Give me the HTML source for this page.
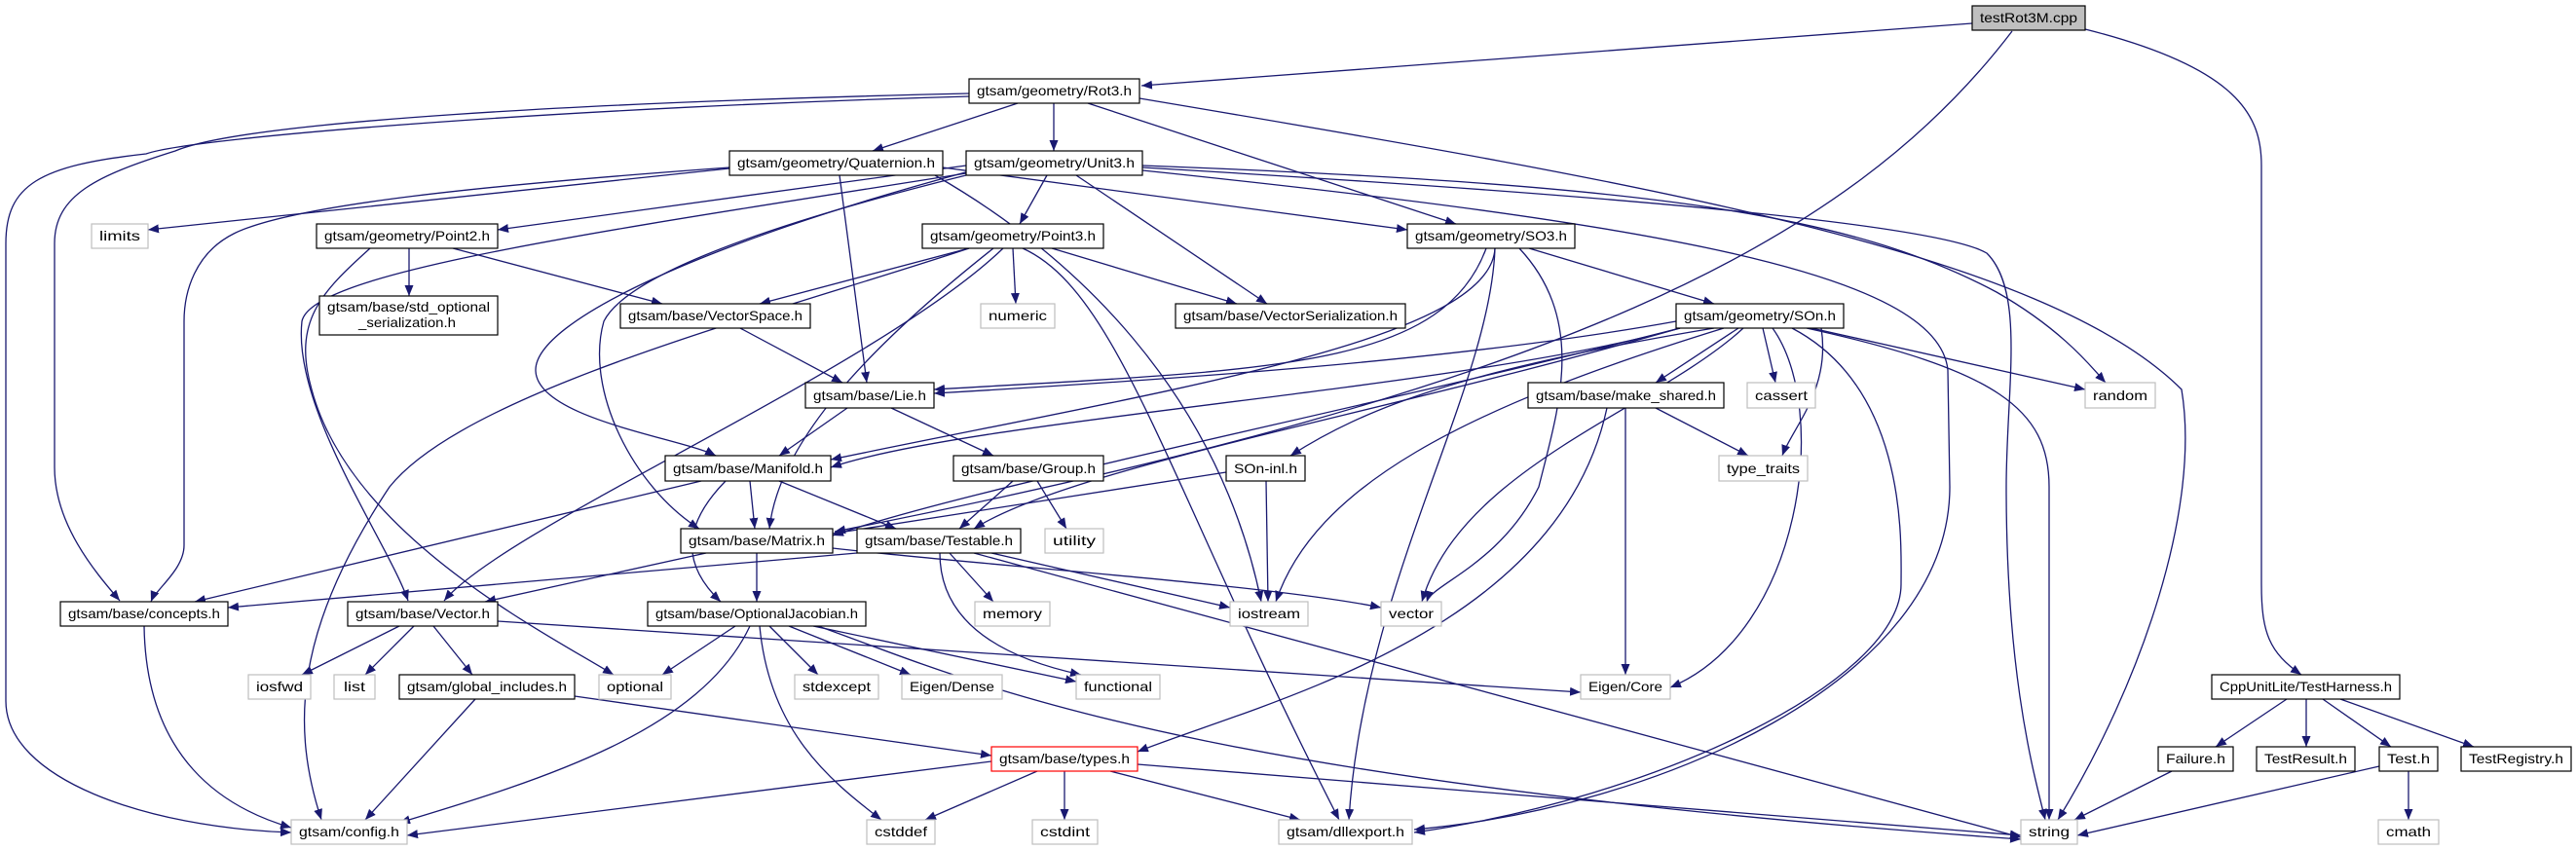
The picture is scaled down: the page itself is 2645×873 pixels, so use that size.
<!DOCTYPE html>
<html><head><meta charset="utf-8"><style>
html,body{margin:0;padding:0;background:#fff;}
svg{display:block;}
text{font-family:"Liberation Sans",sans-serif;font-size:14px;fill:#000;}
.e{fill:none;stroke:#191970;stroke-width:1.3;marker-end:url(#a);}
.b{fill:#fff;stroke:#000;stroke-width:1.2;}
.g{fill:#fff;stroke:#bfbfbf;stroke-width:1.2;}
</style></head><body>
<svg width="2645" height="873" viewBox="0 0 2645 873" xmlns="http://www.w3.org/2000/svg">
<defs><marker id="a" markerUnits="userSpaceOnUse" markerWidth="12" markerHeight="10" refX="11" refY="4.5" orient="auto"><path d="M0,0 L11,4.5 L0,9 z" fill="#191970"/></marker></defs>
<g>
<path class="e" d="M2025,24 L1172,88"/>
<path class="e" d="M2066,32 C1900,250 1600,400 857,546"/>
<path class="e" d="M2141,30 C2300,70 2322,120 2322,170 L2322,600 C2322,650 2330,670 2363,693"/>
<path class="e" d="M1045,106 L896,155"/>
<path class="e" d="M1082,106 L1082,155"/>
<path class="e" d="M1117,106 L1495,230"/>
<path class="e" d="M995,96 C600,105 250,125 180,155 C100,180 56,200 56,250 L56,480 C56,540 100,590 123,617"/>
<path class="e" d="M995,99 C600,110 200,140 150,158 C40,170 6,190 6,250 L6,720 C6,800 150,850 299,855"/>
<path class="e" d="M1170,101 C1700,190 2100,260 2240,400 C2260,520 2200,700 2113,842"/>
<path class="e" d="M749,173 L152,236"/>
<path class="e" d="M862,180 L890,393"/>
<path class="e" d="M749,172 C500,190 300,210 240,240 C200,260 189,300 189,330 L189,560 C189,585 160,605 155,618"/>
<path class="e" d="M960,180 C1100,260 1250,400 1295,618"/>
<path class="e" d="M968,172 L1445,236"/>
<path class="e" d="M992,170 L511,236"/>
<path class="e" d="M1075,180 L1047,230"/>
<path class="e" d="M1105,180 L1301,312"/>
<path class="e" d="M995,176 C720,250 550,330 550,380 C550,430 700,450 735,468"/>
<path class="e" d="M992,180 C750,240 640,290 620,330 C600,400 650,500 718,543"/>
<path class="e" d="M992,178 C600,240 320,280 310,330 C300,420 400,560 419,617"/>
<path class="e" d="M1173,170 C1700,190 1900,220 2050,300 C2120,340 2150,380 2162,393"/>
<path class="e" d="M1173,172 C1650,200 1990,230 2040,260 C2080,300 2060,400 2060,500 C2060,700 2090,800 2100,842"/>
<path class="e" d="M1173,175 C1700,230 1990,280 2000,380 L2002,500 C2002,700 1700,830 1452,852"/>
<path class="e" d="M420,255 L420,304"/>
<path class="e" d="M465,255 L680,312"/>
<path class="e" d="M380,255 C330,300 300,330 320,400 C360,550 560,650 630,693"/>
<path class="e" d="M995,255 L780,312"/>
<path class="e" d="M1080,255 L1270,312"/>
<path class="e" d="M1040,255 L1043,312"/>
<path class="e" d="M1030,255 C900,380 520,540 456,617"/>
<path class="e" d="M1020,255 C900,350 800,450 790,543"/>
<path class="e" d="M995,255 C800,320 480,400 400,500 C300,650 300,750 330,842"/>
<path class="e" d="M1050,255 C1150,300 1200,500 1375,842"/>
<path class="e" d="M760,337 L865,393"/>
<path class="e" d="M1570,255 L1760,312"/>
<path class="e" d="M1526,255 C1480,380 1300,380 959,400"/>
<path class="e" d="M1535,255 C1530,350 1200,400 853,472"/>
<path class="e" d="M1535,255 C1530,400 1400,600 1385,842"/>
<path class="e" d="M1560,255 C1630,330 1600,420 1580,500 C1540,580 1470,600 1465,618"/>
<path class="e" d="M1721,330 C1500,370 1200,390 959,404"/>
<path class="e" d="M1725,337 C1500,400 1000,430 853,480"/>
<path class="e" d="M1725,337 C1400,420 1000,500 855,550"/>
<path class="e" d="M1785,337 L1700,393"/>
<path class="e" d="M1810,337 L1823,393"/>
<path class="e" d="M1860,337 L2141,400"/>
<path class="e" d="M1870,337 C1880,400 1840,440 1830,468"/>
<path class="e" d="M1760,337 C1500,380 1400,420 1325,468"/>
<path class="e" d="M1770,337 C1500,420 1350,500 1310,618"/>
<path class="e" d="M1790,337 C1700,420 1500,480 1460,618"/>
<path class="e" d="M1820,337 C1880,420 1850,650 1715,706"/>
<path class="e" d="M1855,337 C2050,380 2104,420 2104,500 L2104,842"/>
<path class="e" d="M1840,337 C1960,400 1952,560 1952,600 C1952,700 1700,820 1452,855"/>
<path class="e" d="M1725,337 C1400,430 1100,480 1000,543"/>
<path class="e" d="M870,419 L800,468"/>
<path class="e" d="M915,419 L1020,468"/>
<path class="e" d="M1700,419 L1795,468"/>
<path class="e" d="M1669,419 L1669,693"/>
<path class="e" d="M1650,419 C1600,650 1300,720 1168,772"/>
<path class="e" d="M770,494 L775,543"/>
<path class="e" d="M800,494 L920,543"/>
<path class="e" d="M745,494 C700,540 700,580 740,618"/>
<path class="e" d="M720,494 L200,618"/>
<path class="e" d="M1040,494 L985,543"/>
<path class="e" d="M1065,494 L1095,543"/>
<path class="e" d="M1259,485 L855,548"/>
<path class="e" d="M1300,494 L1302,618"/>
<path class="e" d="M725,568 L498,618"/>
<path class="e" d="M777,568 L777,618"/>
<path class="e" d="M855,563 C1000,580 1300,600 1418,624"/>
<path class="e" d="M880,568 L234,624"/>
<path class="e" d="M975,568 L1020,618"/>
<path class="e" d="M1018,568 L1263,624"/>
<path class="e" d="M965,568 C965,650 1050,680 1110,693"/>
<path class="e" d="M1000,568 L2075,860"/>
<path class="e" d="M410,643 L310,693"/>
<path class="e" d="M425,643 L375,693"/>
<path class="e" d="M445,643 L485,693"/>
<path class="e" d="M511,638 L1623,711"/>
<path class="e" d="M755,643 L680,693"/>
<path class="e" d="M790,643 L840,693"/>
<path class="e" d="M810,643 L935,693"/>
<path class="e" d="M835,643 L1105,700"/>
<path class="e" d="M770,643 C720,750 560,800 410,845"/>
<path class="e" d="M780,643 C790,750 850,800 905,842"/>
<path class="e" d="M840,643 C1000,700 1200,800 2075,862"/>
<path class="e" d="M488,718 L375,842"/>
<path class="e" d="M590,715 L1018,776"/>
<path class="e" d="M1018,782 L418,858"/>
<path class="e" d="M1065,792 L950,842"/>
<path class="e" d="M1093,792 L1093,842"/>
<path class="e" d="M1140,792 L1335,842"/>
<path class="e" d="M1168,785 L2075,858"/>
<path class="e" d="M148,643 C150,780 230,830 299,850"/>
<path class="e" d="M2348,718 L2275,767"/>
<path class="e" d="M2368,718 L2368,767"/>
<path class="e" d="M2385,718 L2455,767"/>
<path class="e" d="M2403,718 L2540,767"/>
<path class="e" d="M2230,792 L2130,842"/>
<path class="e" d="M2443,787 L2133,858"/>
<path class="e" d="M2473,792 L2473,842"/>
</g>
<g>
<rect x="2025" y="6" width="116" height="25" fill="#bfbfbf" stroke="#000" stroke-width="1.2"/><text x="2033" y="23" textLength="100" lengthAdjust="spacingAndGlyphs">testRot3M.cpp</text>
<rect class="b" x="995" y="81" width="175" height="25"/><text x="1003" y="98" textLength="159" lengthAdjust="spacingAndGlyphs">gtsam/geometry/Rot3.h</text>
<rect class="b" x="749" y="155" width="219" height="25"/><text x="757" y="172" textLength="203" lengthAdjust="spacingAndGlyphs">gtsam/geometry/Quaternion.h</text>
<rect class="b" x="992" y="155" width="181" height="25"/><text x="1000" y="172" textLength="165" lengthAdjust="spacingAndGlyphs">gtsam/geometry/Unit3.h</text>
<rect class="g" x="94" y="230" width="58" height="25"/><text x="102" y="247" textLength="42" lengthAdjust="spacingAndGlyphs">limits</text>
<rect class="b" x="325" y="230" width="186" height="25"/><text x="333" y="247" textLength="170" lengthAdjust="spacingAndGlyphs">gtsam/geometry/Point2.h</text>
<rect class="b" x="947" y="230" width="186" height="25"/><text x="955" y="247" textLength="170" lengthAdjust="spacingAndGlyphs">gtsam/geometry/Point3.h</text>
<rect class="b" x="1445" y="230" width="172" height="25"/><text x="1453" y="247" textLength="156" lengthAdjust="spacingAndGlyphs">gtsam/geometry/SO3.h</text>
<rect class="b" x="328" y="304" width="183" height="40"/><text x="336" y="320" textLength="167" lengthAdjust="spacingAndGlyphs">gtsam/base/std_optional</text><text x="368" y="336" textLength="100" lengthAdjust="spacingAndGlyphs">_serialization.h</text>
<rect class="b" x="637" y="312" width="195" height="25"/><text x="645" y="329" textLength="179" lengthAdjust="spacingAndGlyphs">gtsam/base/VectorSpace.h</text>
<rect class="g" x="1007" y="312" width="76" height="25"/><text x="1015" y="329" textLength="60" lengthAdjust="spacingAndGlyphs">numeric</text>
<rect class="b" x="1207" y="312" width="236" height="25"/><text x="1215" y="329" textLength="220" lengthAdjust="spacingAndGlyphs">gtsam/base/VectorSerialization.h</text>
<rect class="b" x="1721" y="312" width="172" height="25"/><text x="1729" y="329" textLength="156" lengthAdjust="spacingAndGlyphs">gtsam/geometry/SOn.h</text>
<rect class="b" x="827" y="393" width="132" height="26"/><text x="835" y="411" textLength="116" lengthAdjust="spacingAndGlyphs">gtsam/base/Lie.h</text>
<rect class="b" x="1569" y="393" width="201" height="26"/><text x="1577" y="411" textLength="185" lengthAdjust="spacingAndGlyphs">gtsam/base/make_shared.h</text>
<rect class="g" x="1794" y="393" width="70" height="26"/><text x="1802" y="411" textLength="54" lengthAdjust="spacingAndGlyphs">cassert</text>
<rect class="g" x="2141" y="393" width="72" height="26"/><text x="2149" y="411" textLength="56" lengthAdjust="spacingAndGlyphs">random</text>
<rect class="b" x="683" y="468" width="170" height="26"/><text x="691" y="486" textLength="154" lengthAdjust="spacingAndGlyphs">gtsam/base/Manifold.h</text>
<rect class="b" x="979" y="468" width="154" height="26"/><text x="987" y="486" textLength="138" lengthAdjust="spacingAndGlyphs">gtsam/base/Group.h</text>
<rect class="b" x="1259" y="468" width="81" height="26"/><text x="1267" y="486" textLength="65" lengthAdjust="spacingAndGlyphs">SOn-inl.h</text>
<rect class="g" x="1765" y="468" width="91" height="26"/><text x="1773" y="486" textLength="75" lengthAdjust="spacingAndGlyphs">type_traits</text>
<rect class="b" x="699" y="543" width="156" height="25"/><text x="707" y="560" textLength="140" lengthAdjust="spacingAndGlyphs">gtsam/base/Matrix.h</text>
<rect class="b" x="880" y="543" width="168" height="25"/><text x="888" y="560" textLength="152" lengthAdjust="spacingAndGlyphs">gtsam/base/Testable.h</text>
<rect class="g" x="1073" y="543" width="60" height="25"/><text x="1081" y="560" textLength="44" lengthAdjust="spacingAndGlyphs">utility</text>
<rect class="b" x="62" y="618" width="172" height="25"/><text x="70" y="635" textLength="156" lengthAdjust="spacingAndGlyphs">gtsam/base/concepts.h</text>
<rect class="b" x="357" y="618" width="154" height="25"/><text x="365" y="635" textLength="138" lengthAdjust="spacingAndGlyphs">gtsam/base/Vector.h</text>
<rect class="b" x="665" y="618" width="224" height="25"/><text x="673" y="635" textLength="208" lengthAdjust="spacingAndGlyphs">gtsam/base/OptionalJacobian.h</text>
<rect class="g" x="1001" y="618" width="77" height="25"/><text x="1009" y="635" textLength="61" lengthAdjust="spacingAndGlyphs">memory</text>
<rect class="g" x="1263" y="618" width="80" height="25"/><text x="1271" y="635" textLength="64" lengthAdjust="spacingAndGlyphs">iostream</text>
<rect class="g" x="1418" y="618" width="62" height="25"/><text x="1426" y="635" textLength="46" lengthAdjust="spacingAndGlyphs">vector</text>
<rect class="g" x="255" y="693" width="64" height="25"/><text x="263" y="710" textLength="48" lengthAdjust="spacingAndGlyphs">iosfwd</text>
<rect class="g" x="343" y="693" width="42" height="25"/><text x="353" y="710" textLength="22" lengthAdjust="spacingAndGlyphs">list</text>
<rect class="b" x="410" y="693" width="180" height="25"/><text x="418" y="710" textLength="164" lengthAdjust="spacingAndGlyphs">gtsam/global_includes.h</text>
<rect class="g" x="615" y="693" width="74" height="25"/><text x="623" y="710" textLength="58" lengthAdjust="spacingAndGlyphs">optional</text>
<rect class="g" x="816" y="693" width="86" height="25"/><text x="824" y="710" textLength="70" lengthAdjust="spacingAndGlyphs">stdexcept</text>
<rect class="g" x="926" y="693" width="103" height="25"/><text x="934" y="710" textLength="87" lengthAdjust="spacingAndGlyphs">Eigen/Dense</text>
<rect class="g" x="1105" y="693" width="86" height="25"/><text x="1113" y="710" textLength="70" lengthAdjust="spacingAndGlyphs">functional</text>
<rect class="g" x="1623" y="693" width="92" height="25"/><text x="1631" y="710" textLength="76" lengthAdjust="spacingAndGlyphs">Eigen/Core</text>
<rect class="b" x="2271" y="693" width="193" height="25"/><text x="2279" y="710" textLength="177" lengthAdjust="spacingAndGlyphs">CppUnitLite/TestHarness.h</text>
<rect x="1018" y="767" width="150" height="25" fill="#fff" stroke="#ff0000" stroke-width="1.2"/><text x="1026" y="784" textLength="134" lengthAdjust="spacingAndGlyphs">gtsam/base/types.h</text>
<rect class="b" x="2216" y="767" width="77" height="25"/><text x="2224" y="784" textLength="61" lengthAdjust="spacingAndGlyphs">Failure.h</text>
<rect class="b" x="2317" y="767" width="101" height="25"/><text x="2325" y="784" textLength="85" lengthAdjust="spacingAndGlyphs">TestResult.h</text>
<rect class="b" x="2443" y="767" width="60" height="25"/><text x="2451" y="784" textLength="44" lengthAdjust="spacingAndGlyphs">Test.h</text>
<rect class="b" x="2527" y="767" width="113" height="25"/><text x="2535" y="784" textLength="97" lengthAdjust="spacingAndGlyphs">TestRegistry.h</text>
<rect class="g" x="299" y="842" width="119" height="25"/><text x="307" y="859" textLength="103" lengthAdjust="spacingAndGlyphs">gtsam/config.h</text>
<rect class="g" x="890" y="842" width="70" height="25"/><text x="898" y="859" textLength="54" lengthAdjust="spacingAndGlyphs">cstddef</text>
<rect class="g" x="1060" y="842" width="67" height="25"/><text x="1068" y="859" textLength="51" lengthAdjust="spacingAndGlyphs">cstdint</text>
<rect class="g" x="1313" y="842" width="137" height="25"/><text x="1321" y="859" textLength="121" lengthAdjust="spacingAndGlyphs">gtsam/dllexport.h</text>
<rect class="g" x="2075" y="842" width="58" height="25"/><text x="2083" y="859" textLength="42" lengthAdjust="spacingAndGlyphs">string</text>
<rect class="g" x="2442" y="842" width="62" height="25"/><text x="2450" y="859" textLength="46" lengthAdjust="spacingAndGlyphs">cmath</text>
</g>
</svg>
</body></html>
